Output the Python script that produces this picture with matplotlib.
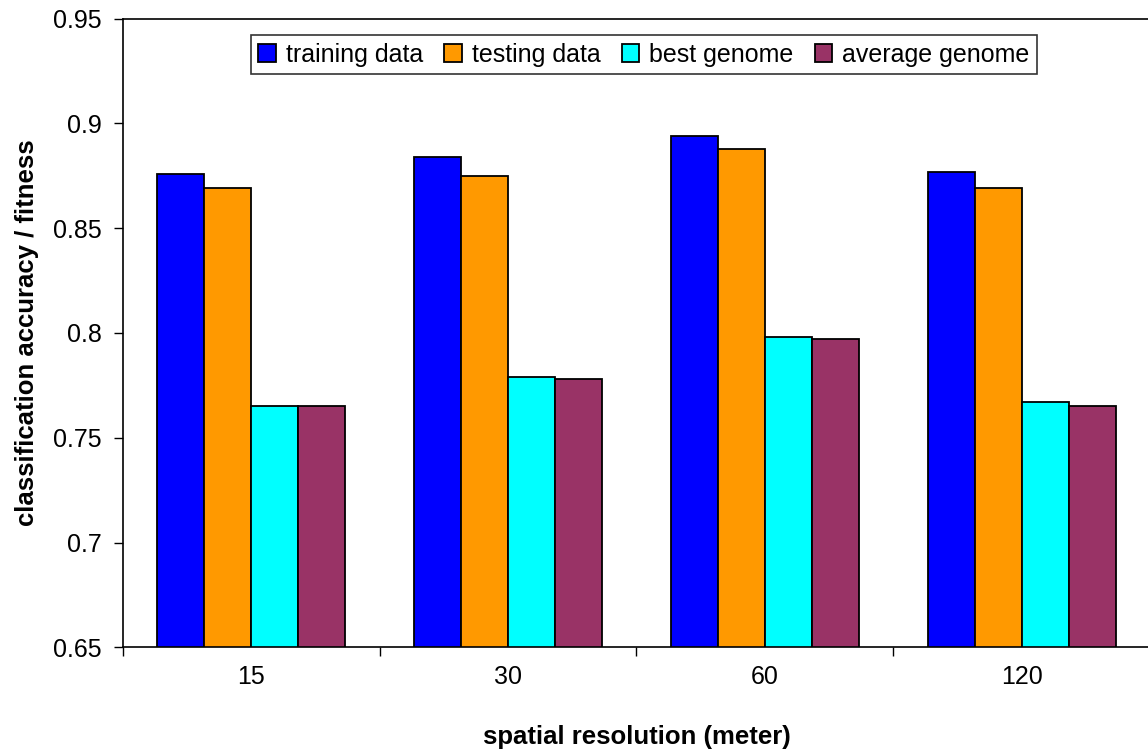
import numpy as np
import matplotlib
matplotlib.use("Agg")
import matplotlib.pyplot as plt

# === data ===
resolutions = ["15", "30", "60", "120"]
series_names = ["training data", "testing data", "best genome", "average genome"]
training = [0.876, 0.884, 0.894, 0.877]
testing = [0.869, 0.875, 0.888, 0.869]
best = [0.765, 0.779, 0.798, 0.767]
average = [0.765, 0.778, 0.797, 0.765]
colors = ["#0000FF", "#FF9900", "#00FFFF", "#993366"]

plt.rcParams["font.family"] = ["Liberation Sans", "DejaVu Sans"]

fig = plt.figure(figsize=(11.48, 7.53), dpi=100)
ax = fig.add_axes([0.1071, 0.1404, 0.8946, 0.8348])

x = np.arange(len(resolutions))
w = 0.183
for i, (vals, name, c) in enumerate(zip([training, testing, best, average], series_names, colors)):
    ax.bar(x + (i - 1.5) * w, vals, width=w, color=c, edgecolor="black",
           linewidth=1.3, label=name, zorder=2)

ax.set_xlim(-0.5, len(resolutions) - 0.5)
ax.set_ylim(0.65, 0.95)
ax.set_yticks(np.arange(0.65, 0.951, 0.05))
ax.set_yticklabels(["0.65", "0.7", "0.75", "0.8", "0.85", "0.9", "0.95"])

# category labels at centres, tick marks on the boundaries
ax.set_xticks(x)
ax.set_xticklabels(resolutions)
ax.set_xticks(np.arange(-0.5, len(resolutions)), minor=True)
ax.tick_params(axis="x", which="major", length=0, pad=13, labelsize=18)
ax.tick_params(axis="x", which="minor", length=6.5, width=1, direction="out")
ax.tick_params(axis="y", length=6.5, width=1, direction="out", pad=9, labelsize=18)

ax.spines["right"].set_visible(False)
for s in ["left", "bottom", "top"]:
    ax.spines[s].set_linewidth(1.2)

ax.set_xlabel("spatial resolution (meter)", fontsize=18.5, fontweight="bold", labelpad=26)
ax.set_ylabel("classification accuracy / fitness", fontsize=18.5, fontweight="bold", labelpad=10)

leg = ax.legend(loc="upper center", bbox_to_anchor=(0.507, 0.974), ncol=4, fontsize=18,
                frameon=True, fancybox=False, edgecolor="black", handlelength=0.7,
                handleheight=0.7, handletextpad=0.4, columnspacing=0.85,
                borderpad=0.3, borderaxespad=0)
leg.get_frame().set_linewidth(1.2)

fig.savefig("out.png", dpi=100)
